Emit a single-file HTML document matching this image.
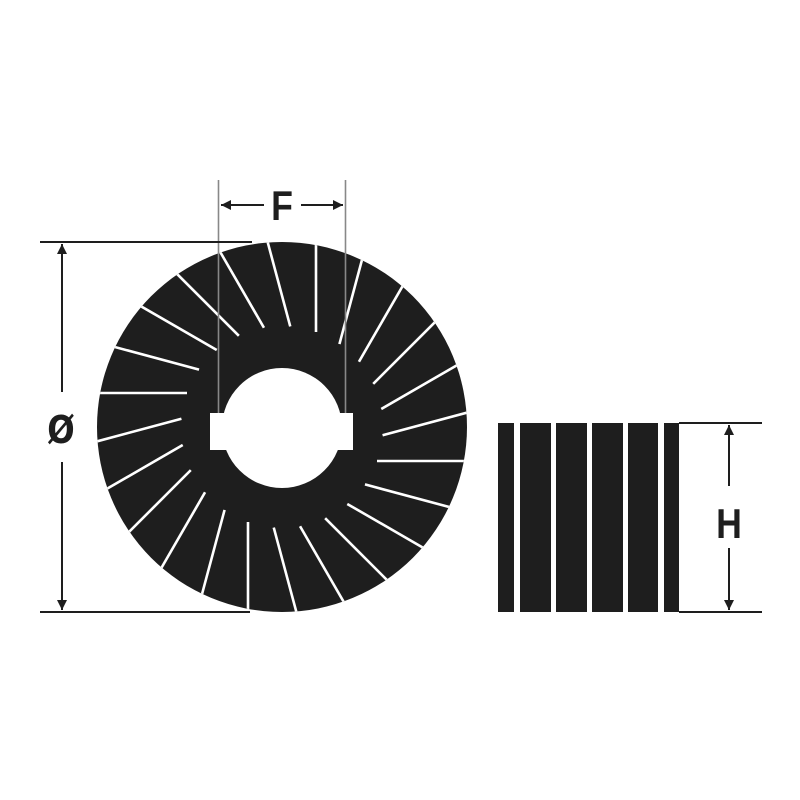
<!DOCTYPE html>
<html><head><meta charset="utf-8"><style>html,body{margin:0;padding:0;background:#fff}svg{display:block}</style></head>
<body>
<svg width="800" height="800" viewBox="0 0 800 800" xmlns="http://www.w3.org/2000/svg">
<defs>
<clipPath id="dc"><circle cx="282" cy="427" r="185"/></clipPath>
<marker id="ar" viewBox="0 0 10 10" refX="10" refY="5" markerWidth="14" markerHeight="10" markerUnits="userSpaceOnUse" orient="auto"><path d="M0,0 L10,5 L0,10 z" fill="#1e1e1e"/></marker>
</defs>
<rect width="800" height="800" fill="#fff"/>
<circle cx="282" cy="427" r="185" fill="#1e1e1e"/>
<g clip-path="url(#dc)" stroke="#fff" stroke-width="2.6">
<line x1="377" y1="461" x2="480" y2="461" transform="rotate(0 282 427)"/>
<line x1="377" y1="461" x2="480" y2="461" transform="rotate(15 282 427)"/>
<line x1="377" y1="461" x2="480" y2="461" transform="rotate(30 282 427)"/>
<line x1="377" y1="461" x2="480" y2="461" transform="rotate(45 282 427)"/>
<line x1="377" y1="461" x2="480" y2="461" transform="rotate(60 282 427)"/>
<line x1="377" y1="461" x2="480" y2="461" transform="rotate(75 282 427)"/>
<line x1="377" y1="461" x2="480" y2="461" transform="rotate(90 282 427)"/>
<line x1="377" y1="461" x2="480" y2="461" transform="rotate(105 282 427)"/>
<line x1="377" y1="461" x2="480" y2="461" transform="rotate(120 282 427)"/>
<line x1="377" y1="461" x2="480" y2="461" transform="rotate(135 282 427)"/>
<line x1="377" y1="461" x2="480" y2="461" transform="rotate(150 282 427)"/>
<line x1="377" y1="461" x2="480" y2="461" transform="rotate(165 282 427)"/>
<line x1="377" y1="461" x2="480" y2="461" transform="rotate(180 282 427)"/>
<line x1="377" y1="461" x2="480" y2="461" transform="rotate(195 282 427)"/>
<line x1="377" y1="461" x2="480" y2="461" transform="rotate(210 282 427)"/>
<line x1="377" y1="461" x2="480" y2="461" transform="rotate(225 282 427)"/>
<line x1="377" y1="461" x2="480" y2="461" transform="rotate(240 282 427)"/>
<line x1="377" y1="461" x2="480" y2="461" transform="rotate(255 282 427)"/>
<line x1="377" y1="461" x2="480" y2="461" transform="rotate(270 282 427)"/>
<line x1="377" y1="461" x2="480" y2="461" transform="rotate(285 282 427)"/>
<line x1="377" y1="461" x2="480" y2="461" transform="rotate(300 282 427)"/>
<line x1="377" y1="461" x2="480" y2="461" transform="rotate(315 282 427)"/>
<line x1="377" y1="461" x2="480" y2="461" transform="rotate(330 282 427)"/>
<line x1="377" y1="461" x2="480" y2="461" transform="rotate(345 282 427)"/>
</g>
<circle cx="282" cy="428" r="60" fill="#fff"/>
<rect x="210" y="413" width="143" height="37" fill="#fff"/>
<line x1="218.5" y1="180" x2="218.5" y2="413" stroke="#888" stroke-width="1.6"/>
<line x1="345.5" y1="180" x2="345.5" y2="413" stroke="#888" stroke-width="1.6"/>
<line x1="264" y1="205" x2="221" y2="205" stroke="#1e1e1e" stroke-width="2" marker-end="url(#ar)"/>
<line x1="301" y1="205" x2="343" y2="205" stroke="#1e1e1e" stroke-width="2" marker-end="url(#ar)"/>
<text x="0" y="0" font-family="Liberation Sans, sans-serif" font-weight="bold" font-size="42" text-anchor="middle" fill="#1e1e1e" transform="translate(282 220) scale(0.85 1)">F</text>
<line x1="40" y1="242" x2="252" y2="242" stroke="#1e1e1e" stroke-width="2"/>
<line x1="40" y1="612" x2="250" y2="612" stroke="#1e1e1e" stroke-width="2"/>
<line x1="62" y1="392" x2="62" y2="244" stroke="#1e1e1e" stroke-width="2" marker-end="url(#ar)"/>
<line x1="62" y1="462" x2="62" y2="610" stroke="#1e1e1e" stroke-width="2" marker-end="url(#ar)"/>
<text x="0" y="0" font-family="DejaVu Sans, sans-serif" font-weight="bold" font-size="38" text-anchor="middle" fill="#1e1e1e" transform="translate(61 443) scale(0.85 1)">Ø</text>
<g fill="#1e1e1e">
<rect x="498" y="423" width="16" height="189"/>
<rect x="520" y="423" width="31" height="189"/>
<rect x="556" y="423" width="31" height="189"/>
<rect x="592" y="423" width="31" height="189"/>
<rect x="628" y="423" width="30" height="189"/>
<rect x="664" y="423" width="15" height="189"/>
</g>
<line x1="679" y1="423" x2="762" y2="423" stroke="#1e1e1e" stroke-width="2"/>
<line x1="679" y1="612" x2="762" y2="612" stroke="#1e1e1e" stroke-width="2"/>
<line x1="729" y1="486" x2="729" y2="425" stroke="#1e1e1e" stroke-width="2" marker-end="url(#ar)"/>
<line x1="729" y1="548" x2="729" y2="610" stroke="#1e1e1e" stroke-width="2" marker-end="url(#ar)"/>
<text x="0" y="0" font-family="Liberation Sans, sans-serif" font-weight="bold" font-size="42" text-anchor="middle" fill="#1e1e1e" transform="translate(729 538) scale(0.85 1)">H</text>
</svg>
</body></html>
